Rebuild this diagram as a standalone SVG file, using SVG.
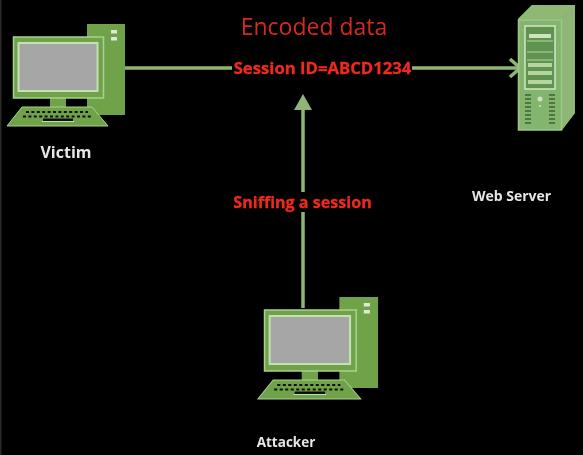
<svg xmlns="http://www.w3.org/2000/svg" width="583" height="455" viewBox="0 0 583 455">
<defs>
<style>
.g{fill:#6fa34a}
.scr{fill:#a6a6a6;stroke:#c5e0b4;stroke-width:2}
.k{stroke:#0b0f06;stroke-width:2.2;stroke-dasharray:3 2.4;fill:none}
.w{font-family:"Open Sans","Liberation Sans",sans-serif;font-weight:700;fill:#e6e6e6}
.r{font-family:"Open Sans","Liberation Sans",sans-serif;font-weight:700;fill:#ee2a1e;stroke:#ee2a1e;stroke-width:.3}
.ln{stroke:#8fb573;stroke-width:3.500;fill:none}
</style>
<filter id="b" x="-5%" y="-5%" width="110%" height="110%"><feGaussianBlur stdDeviation="0.5"/></filter>
<g id="pc">
<rect class="g" x="87" y="24" width="38" height="91"/>
<rect x="111" y="30" width="6" height="3.500" fill="#dfe8d6"/>
<rect x="111" y="37" width="6" height="3.500" fill="#dfe8d6"/>
<rect x="50" y="97" width="16" height="12" class="g"/>
<rect x="13.500" y="37" width="90" height="61" class="g" stroke="#a9d18e" stroke-width="1.500"/>
<rect class="scr" x="18.500" y="43" width="79" height="48"/>
<path d="M22 107H92L108 126H7Z" class="g" stroke="#a9d18e" stroke-width="1"/>
<path class="k" d="M26 112H88M23 116.500H91"/>
<path d="M43 120H73" stroke="#111" stroke-width="3"/>
<path d="M42 121.500H74" stroke="#c5e0b4" stroke-width="1"/>
</g>
</defs>
<rect width="583" height="455" fill="#000"/>
<rect width="1.500" height="455" fill="#2a2a2a"/>
<g filter="url(#b)">
<g id="connectors">
<path class="ln" d="M125 68H232M412 68H518"/>
<path class="ln" d="M510 59L520 68L510 77" stroke-width="4"/>
<path class="ln" d="M303 308V212M303 192V109"/>
<path d="M303 94L312 110H294Z" fill="#8fb573"/>
</g>
<g id="victim">
<use href="#pc"/>
<text class="w" x="66" y="158" font-size="16" text-anchor="middle">Victim</text>
</g>
<g id="server">
<path d="M518 19L532 5H575V113L562 130H518Z" fill="#7fa866"/>
<path d="M518 19L532 5H575L562 19Z" fill="#8fb874"/>
<path d="M562 19L575 5V113L562 130Z" fill="#8fb577"/>
<rect x="518.500" y="20" width="43" height="110" fill="#84b56e" stroke="#9cc985" stroke-width="1.500"/>
<rect x="525" y="26" width="30" height="63" fill="#5f9350" stroke="#d4e6c6" stroke-width="1.500"/>
<rect x="529" y="34" width="22" height="4" fill="#cfe3c0"/>
<path d="M527 41H553M527 52H553M527 60H553" stroke="#b8d6a5" stroke-width="1"/>
<rect x="528" y="63" width="24" height="4" fill="#b5d49f"/>
<rect x="528" y="71" width="24" height="4" fill="#b5d49f"/>
<rect x="528" y="80" width="24" height="4" fill="#b5d49f"/>
<path d="M525 95H531M525 99H531M525 103H531M525 107H531M525 111H531M525 115H531M525 119H531M525 123H531M549 95H555M549 99H555M549 103H555M549 107H555M549 111H555M549 115H555M549 119H555M549 123H555" stroke="#3f5f38" stroke-width="1.500"/>
<circle cx="540" cy="99" r="2.500" fill="#cfe0c4"/>
<circle cx="540" cy="106" r="1" fill="#d9f08a"/>
</g>
<text id="webserver-label" class="w" x="511.500" y="201" font-size="14" text-anchor="middle">Web Server</text>
<g id="attacker">
<use href="#pc" transform="translate(250.800 273) scale(1.018 1)"/>
<text class="w" x="286" y="447" font-size="13.500" text-anchor="middle">Attacker</text>
</g>
<text x="314" y="35" font-family="'Open Sans','Liberation Sans',sans-serif" font-size="23" fill="#d42a22" text-anchor="middle">Encoded data</text>
<text class="r" x="322.500" y="73.500" font-size="16.700" text-anchor="middle">Session ID=ABCD1234</text>
<text class="r" x="302.500" y="207.500" font-size="16.100" text-anchor="middle">Sniffing a session</text>
</g>
</svg>
